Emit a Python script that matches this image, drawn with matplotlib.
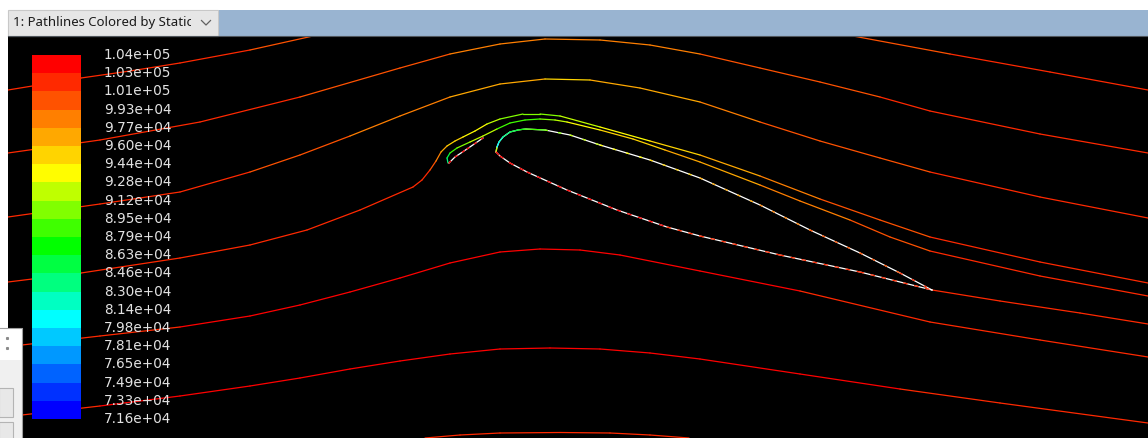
import numpy as np
import matplotlib
matplotlib.use('Agg')
import matplotlib.pyplot as plt
from matplotlib.collections import LineCollection
from matplotlib.colors import LinearSegmentedColormap, ListedColormap, BoundaryNorm
from matplotlib.patches import Rectangle

W, H = 1148, 438

# static pressure legend (Pa), bottom to top
level_labels = ['7.16e+04', '7.33e+04', '7.49e+04', '7.65e+04', '7.81e+04',
                '7.98e+04', '8.14e+04', '8.30e+04', '8.46e+04', '8.63e+04',
                '8.79e+04', '8.95e+04', '9.12e+04', '9.28e+04', '9.44e+04',
                '9.60e+04', '9.77e+04', '9.93e+04', '1.01e+05', '1.03e+05',
                '1.04e+05']
levels = np.array([float(s) for s in level_labels])

# pathlines: screen x, screen y, static pressure at each vertex
line1a_x = [8, 81, 130, 180, 250, 313]
line1a_y = [90, 78, 71, 63, 50, 36]
line1a_p = [102200, 102000, 101800, 101500, 100800, 100300]

line1b_x = [853, 950, 1050, 1148]
line1b_y = [36, 54, 72, 90]
line1b_p = [100500, 101200, 101800, 102200]

line2_x = [8, 100, 200, 300, 400, 450, 500, 545, 600, 650, 700, 760, 820, 880,
           930, 1040, 1148]
line2_y = [153, 140, 122, 97, 68, 54, 44, 39, 40, 45, 54, 68, 82, 97, 111, 134, 153]
line2_p = [102300, 102000, 101500, 100800, 100000, 99400, 98900, 98600, 98700,
           99000, 99400, 100000, 100500, 100900, 101300, 101800, 102200]

line3_x = [8, 100, 180, 250, 300, 350, 400, 450, 500, 545, 590, 640, 700, 760,
           820, 880, 930, 1040, 1148]
line3_y = [217, 204, 192, 172, 155, 136, 116, 97, 84, 79, 80, 88, 102, 122, 141,
           158, 172, 197, 218]
line3_p = [102300, 102000, 101500, 100800, 100200, 99600, 98800, 97500, 96500,
           95500, 95700, 96500, 97600, 99000, 99900, 100600, 101000, 101800, 102300]

line4_x = [8, 81, 180, 250, 307, 360, 413, 422, 430, 436, 441, 447, 455, 463,
           475, 487, 500, 523, 540, 560, 600, 650, 700, 760, 820, 880, 930, 1040, 1148]
line4_y = [282, 273, 258, 245, 230, 210, 187, 180, 170, 161, 152, 146, 141, 137,
           131, 124, 119, 114, 114, 116, 127, 141, 155, 176, 199, 220, 237, 262, 283]
line4_p = [103000, 102900, 102800, 102700, 102600, 102400, 102100, 101800, 101000,
           99500, 97500, 96000, 95000, 94300, 93500, 92500, 91800, 90500, 90600,
           91300, 93200, 94800, 96300, 97800, 99000, 100200, 101000, 101800, 102300]

slat_path_x = [448, 447, 450, 457, 470, 483, 497, 510, 525, 540, 555, 567, 600,
               633, 665, 700, 760, 800, 850, 890, 930, 1040, 1148]
slat_path_y = [163, 158, 153, 148, 142, 136, 129, 123, 120, 119, 120, 122, 130,
               139, 150, 162, 185, 201, 220, 237, 251, 276, 296]
slat_path_p = [82000, 84000, 87000, 89000, 91000, 92500, 90000, 88700, 88500,
               89200, 91000, 92500, 94000, 95200, 96000, 96500, 97800, 98700,
               99500, 100200, 100800, 101800, 102300]

line5_x = [22, 100, 180, 250, 300, 350, 400, 450, 500, 540, 580, 620, 700, 800,
           930, 1040, 1148]
line5_y = [345, 336, 327, 316, 305, 292, 278, 263, 252, 249, 250, 255, 271, 291,
           322, 340, 357]
line5_p = [102600, 102800, 103000, 103100, 103200, 103300, 103400, 103500, 103600,
           103700, 103700, 103600, 103300, 103000, 102700, 102500, 102300]

line6_x = [22, 100, 180, 250, 300, 350, 400, 450, 500, 550, 600, 650, 700, 800,
           900, 1000, 1148]
line6_y = [415, 406, 396, 386, 378, 369, 361, 354, 349, 348, 349, 353, 359, 374,
           389, 403, 423]
line6_p = [102700, 102900, 103100, 103200, 103300, 103400, 103500, 103600, 103700,
           103700, 103600, 103500, 103400, 103200, 103000, 102800, 102500]

line7_x = [425, 460, 500, 560, 610, 650, 689]
line7_y = [438, 435, 433, 432.5, 433, 435, 438]
line7_p = [102600, 102700, 102800, 102900, 102800, 102700, 102600]

wake_x = [932, 1000, 1080, 1148]
wake_y = [290, 301, 313, 324]
wake_p = [102500, 102400, 102300, 102200]

# main element wall, leading edge -> upper -> trailing edge
upper_x = [496, 497, 499, 503, 510, 518, 525, 545, 570, 600, 650, 700, 760, 810,
           860, 900, 932]
upper_y = [152, 147, 142, 137, 132, 130, 129, 130, 135, 145, 160, 178, 205, 230,
           253, 273, 290]
upper_p = [103500, 80500, 81000, 82500, 85000, 86500, 87500, 88500, 90500, 93000,
           95000, 96500, 97800, 98800, 99800, 100800, 102000]
lower_x = [496, 500, 510, 527, 567, 617, 667, 700, 780, 860, 932]
lower_y = [152, 156, 163, 172, 190, 210, 227, 236, 255, 272, 290]
lower_p = [103500, 103600, 103500, 103400, 103300, 103200, 103000, 102900,
           102700, 102400, 102200]

# slat trailing edge wall
slat_x = [449, 455, 467, 483]
slat_y = [163, 157, 149, 138]
slat_p = [103500, 103400, 103200, 103000]

# Fluent style banded rainbow
base = LinearSegmentedColormap.from_list(
    'fluent', [(0, '#0000ff'), (5 / 19, '#00ffff'), (9 / 19, '#00ff00'),
               (13 / 19, '#ffff00'), (1, '#ff0000')])
band_colors = base(np.arange(20) / 19)
cmap = ListedColormap(band_colors)
norm = BoundaryNorm(levels, 20)


def draw_path(ax, xs, ys, ps, lw=0.9, ls='solid', z=3):
    pts = np.column_stack([xs, ys])
    segs = np.stack([pts[:-1], pts[1:]], axis=1)
    ps = np.asarray(ps, dtype=float)
    lc = LineCollection(segs, cmap=cmap, norm=norm, linewidths=lw,
                        linestyles=ls, zorder=z, capstyle='round')
    lc.set_array(0.5 * (ps[:-1] + ps[1:]))
    ax.add_collection(lc)


fig = plt.figure(figsize=(W / 100, H / 100), dpi=100, facecolor='white')

# graphics window
ax = fig.add_axes([8 / W, 0, (W - 8) / W, (H - 36) / H])
ax.set_facecolor('black')
ax.set_xlim(8, W)
ax.set_ylim(H, 36)
ax.set_xticks([])
ax.set_yticks([])
for s in ax.spines.values():
    s.set_visible(False)

for xs, ys, ps in [(line1a_x, line1a_y, line1a_p), (line1b_x, line1b_y, line1b_p),
                   (line2_x, line2_y, line2_p), (line3_x, line3_y, line3_p),
                   (line4_x, line4_y, line4_p), (slat_path_x, slat_path_y, slat_path_p),
                   (line5_x, line5_y, line5_p), (line6_x, line6_y, line6_p),
                   (line7_x, line7_y, line7_p), (wake_x, wake_y, wake_p)]:
    draw_path(ax, xs, ys, ps)

# walls in white, surface pathlines flickering over them
ax.plot(upper_x, upper_y, color='white', lw=0.9, zorder=4)
ax.plot(lower_x, lower_y, color='white', lw=0.9, zorder=4)
ax.plot(slat_x, slat_y, color='white', lw=0.9, zorder=4)
draw_path(ax, upper_x[:8], upper_y[:8], upper_p[:8], z=5)
draw_path(ax, upper_x[7:], upper_y[7:], upper_p[7:], ls=(0, (2, 9)), z=5)
draw_path(ax, lower_x, lower_y, lower_p, ls=(0, (3, 6)), z=5)
draw_path(ax, slat_x, slat_y, slat_p, ls=(0, (2, 5)), z=5)

# colour legend
bar_top, bar_h = 55, (419 - 55) / 20
for i in range(20):
    k = 19 - i
    ax.add_patch(Rectangle((32, bar_top + i * bar_h), 49, bar_h,
                           facecolor=band_colors[k], edgecolor='none', zorder=6))
for j, lab in enumerate(level_labels[::-1]):
    ax.text(104, bar_top + j * bar_h, lab, color='#e2e2e2', fontsize=9.8,
            family='DejaVu Sans', va='center', ha='left', zorder=6)

# window frame: tab strip and side panel
ui = fig.add_axes([0, 0, 1, 1], zorder=5)
ui.set_xlim(0, W)
ui.set_ylim(H, 0)
ui.set_axis_off()
ui.patch.set_alpha(0)

ui.add_patch(Rectangle((0, 0), W, 10, facecolor='white', edgecolor='none'))
ui.add_patch(Rectangle((0, 0), 7.5, 330, facecolor='white', edgecolor='none'))
ui.add_patch(Rectangle((218, 10), W - 218, 25.5, facecolor='#99b4d1', edgecolor='none'))
ui.add_patch(Rectangle((7.5, 10), 210.5, 25.5, facecolor='#e6e6e6',
                       edgecolor='#c8c8c8', lw=0.8))
ui.plot([7.5, W], [35.7, 35.7], color='#50565c', lw=0.8)

ui.text(13, 22.5, '1: Pathlines Colored by Static', fontsize=9.5,
        family='Noto Sans', color='#1a1a1a', va='center', ha='left', zorder=3)
# dropdown button covers the end of the title
ui.add_patch(Rectangle((191, 10.5), 26.5, 24.5, facecolor='#e6e6e6',
                       edgecolor='none', zorder=4))
ui.plot([201.5, 206, 210.5], [20.5, 25, 20.5], color='#606060', lw=0.9, zorder=5)

ui.add_patch(Rectangle((0, 328), 21.5, 32, facecolor='white', edgecolor='none'))
ui.add_patch(Rectangle((0, 360), 21.5, 78, facecolor='#f0f0f0', edgecolor='none'))
ui.plot([0, 21.5, 21.5], [327.5, 327.5, H], color='#a0a0a0', lw=0.8)
ui.plot([7, 7], [338, 348], 's', ms=1.2, color='#8a8a8a')
ui.add_patch(Rectangle((-1, 388), 14, 29, facecolor='#e8e8e8', edgecolor='#b4b4b4', lw=0.8))
ui.add_patch(Rectangle((-1, 422), 14, 20, facecolor='#e8e8e8', edgecolor='#b4b4b4', lw=0.8))

fig.savefig('out.png', dpi=100)
